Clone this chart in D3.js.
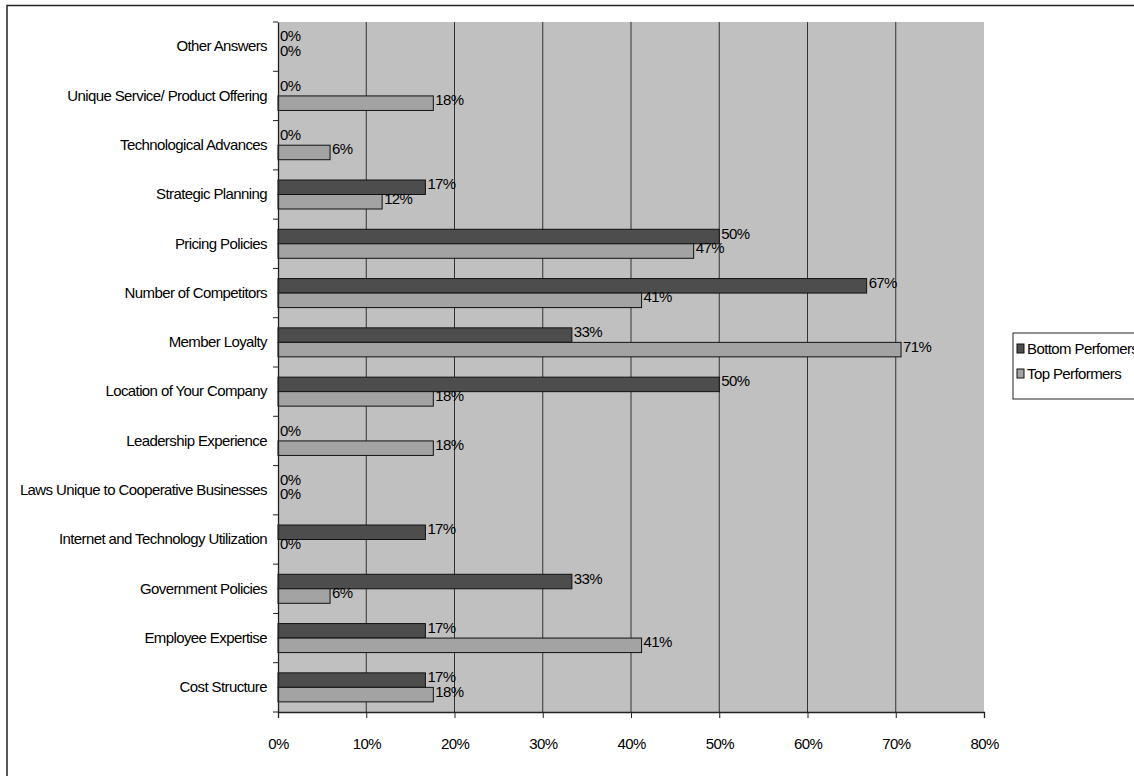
<!DOCTYPE html>
<html>
<head>
<meta charset="utf-8">
<script src="https://cdn.jsdelivr.net/npm/d3@7"></script>
<style>
  body { margin: 0; background: #fff; }
  svg text { font-family: "Liberation Sans Narrow", "Arial Narrow", "Liberation Sans", sans-serif; fill: #000; letter-spacing: -0.6px; }
</style>
</head>
<body>
<svg id="chart" width="1134" height="776"></svg>
<script>
// categories listed bottom to top as in the spreadsheet
const categories = [
  "Cost Structure", "Employee Expertise", "Government Policies",
  "Internet and Technology Utilization", "Laws Unique to Cooperative Businesses",
  "Leadership Experience", "Location of Your Company", "Member Loyalty",
  "Number of Competitors", "Pricing Policies", "Strategic Planning",
  "Technological Advances", "Unique Service/ Product Offering", "Other Answers"
];
const bottomPerformers = [16.7, 16.7, 33.3, 16.7, 0, 0, 50, 33.3, 66.7, 50, 16.7, 0, 0, 0];
const topPerformers = [17.6, 41.2, 5.9, 0, 0, 17.6, 17.6, 70.6, 41.2, 47.1, 11.8, 5.9, 17.6, 0];
const seriesNames = ["Bottom Perfomers", "Top Performers"];
const seriesColors = ["#4d4d4d", "#a3a3a3"];
const xTicks = [0, 10, 20, 30, 40, 50, 60, 70, 80];

const svg = d3.select("#chart");
const plotL = 278, plotR = 984, plotT = 22, plotB = 712;

// outer frame (runs off the page on the right and bottom)
svg.append("path")
  .attr("d", "M7,790 L7,5.5 L1140,5.5")
  .attr("fill", "none").attr("stroke", "#222").attr("stroke-width", 1.5);

const x = d3.scaleLinear().domain([0, 80]).range([plotL, plotR]);
const y = d3.scaleBand().domain(categories.slice().reverse()).range([plotT, plotB]);
const barH = 14.5;

svg.append("rect")
  .attr("x", plotL).attr("y", plotT)
  .attr("width", plotR - plotL).attr("height", plotB - plotT)
  .attr("fill", "#c0c0c0");

// vertical gridlines
svg.selectAll(".grid").data(xTicks.slice(1, -1)).enter().append("line")
  .attr("x1", d => x(d)).attr("x2", d => x(d))
  .attr("y1", plotT).attr("y2", plotB)
  .attr("stroke", "#333").attr("stroke-width", 1);

const series = [bottomPerformers, topPerformers];
series.forEach((vals, s) => {
  const g = svg.append("g");
  const rows = categories.map((c, i) => ({ c, v: vals[i] }));
  g.selectAll("rect").data(rows).enter().append("rect")
    .attr("x", plotL)
    .attr("y", d => y(d.c) + y.bandwidth() / 2 - barH + s * barH)
    .attr("width", d => x(d.v) - plotL)
    .attr("height", barH)
    .attr("fill", seriesColors[s])
    .attr("stroke", "#111").attr("stroke-width", 1)
    .attr("display", d => d.v > 0 ? null : "none");
  g.selectAll("text").data(rows).enter().append("text")
    .attr("x", d => x(d.v) + 2)
    .attr("y", d => y(d.c) + y.bandwidth() / 2 - barH / 2 + s * barH + 2)
    .attr("font-size", 15)
    .text(d => Math.round(d.v) + "%");
});

// axes
const xAxis = svg.append("g").attr("transform", `translate(0,${plotB})`)
  .call(d3.axisBottom(x).tickValues(xTicks).tickFormat(d => d + "%").tickSize(6).tickPadding(20));
xAxis.select(".domain").attr("stroke", "#222").attr("stroke-width", 1.3);
xAxis.selectAll("line").attr("stroke", "#222");
xAxis.selectAll("text").attr("font-size", 15);

const yAxis = svg.append("g").attr("transform", `translate(${plotL},0)`)
  .call(d3.axisLeft(y).tickSize(0).tickPadding(11));
yAxis.select(".domain").attr("stroke", "#222").attr("stroke-width", 1.3);
yAxis.selectAll("text").attr("font-size", 15);
// tick marks at band boundaries
svg.selectAll(".ytick").data(d3.range(categories.length + 1)).enter().append("line")
  .attr("x1", plotL - 5).attr("x2", plotL)
  .attr("y1", i => plotT + i * y.step()).attr("y2", i => plotT + i * y.step())
  .attr("stroke", "#222");

// legend
const lg = svg.append("g").attr("transform", "translate(1013,333)");
lg.append("rect").attr("width", 140).attr("height", 66)
  .attr("fill", "#fff").attr("stroke", "#222").attr("stroke-width", 1);
seriesNames.forEach((n, i) => {
  lg.append("rect").attr("x", 4).attr("y", 11 + i * 25).attr("width", 7).attr("height", 9)
    .attr("fill", seriesColors[i]).attr("stroke", "#111");
  lg.append("text").attr("x", 14).attr("y", 21 + i * 25).attr("font-size", 15).text(n);
});
</script>
</body>
</html>
